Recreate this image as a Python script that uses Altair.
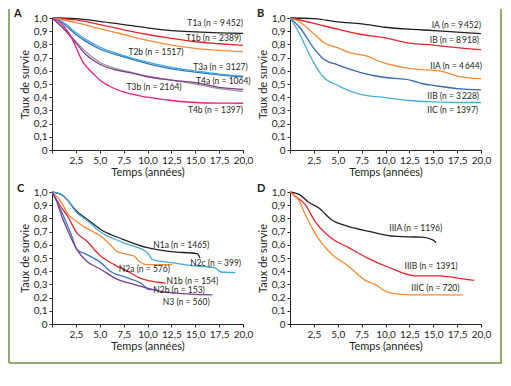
import altair as alt
import pandas as pd

FONT = "Lato"
TXT = "#231f20"
GREEN = "#8cad6e"

# ---------------- Panel A ----------------
A_names = ["T1a", "T1b", "T2a", "T2b", "T3a", "T3b", "T4a", "T4b"]
A_colors = ["#231f20", "#e4262d", "#f58a34", "#2f74b5", "#41a8de", "#9b9b9b", "#7d3c8f", "#e61e7f"]
A_times = [
    [0, 2.5, 5, 7.5, 10, 12.5, 15, 17.5, 20],
    [0, 2.5, 5, 7.5, 10, 12.5, 15, 17.5, 20],
    [0, 2.5, 5, 7.5, 10, 12.5, 15, 17.5, 20],
    [0, 1, 2.5, 3.5, 5, 7.5, 10, 12.5, 15, 17.5, 20],
    [0, 1, 2.5, 3.5, 5, 7.5, 10, 12.5, 15, 17.5, 20],
    [0, 1.2, 2.4, 3.6, 5, 6.8, 8.5, 10, 12.5, 15, 17.5, 20],
    [0, 1.2, 2.4, 3.6, 5, 6.8, 8.5, 10, 12.5, 15, 17.5, 20],
    [0, 0.8, 1.9, 3.3, 4.3, 5, 6, 7.5, 10, 12.5, 15, 17.5, 20],
]
A_surv = [
    [1, 0.995, 0.975, 0.95, 0.925, 0.905, 0.895, 0.888, 0.884],
    [1, 0.985, 0.95, 0.91, 0.875, 0.845, 0.82, 0.805, 0.793],
    [1, 0.965, 0.92, 0.875, 0.83, 0.795, 0.77, 0.755, 0.745],
    [1, 0.968, 0.875, 0.825, 0.765, 0.705, 0.655, 0.615, 0.59, 0.57, 0.555],
    [1, 0.975, 0.89, 0.84, 0.78, 0.715, 0.665, 0.625, 0.6, 0.575, 0.56],
    [1, 0.925, 0.83, 0.74, 0.665, 0.615, 0.585, 0.56, 0.53, 0.5, 0.465, 0.445],
    [1, 0.92, 0.82, 0.72, 0.65, 0.605, 0.58, 0.555, 0.53, 0.51, 0.475, 0.46],
    [1, 0.97, 0.87, 0.66, 0.58, 0.53, 0.485, 0.44, 0.40, 0.375, 0.36, 0.355, 0.354],
]
A_labels = ["T1a (n = 9\u2009452)", "T1b (n = 2389)", "T2b (n = 1517)", "T3a (n = 3127)",
            "T4a (n = 1064)", "T3b (n = 2164)", "T4b (n = 1397)"]
A_lab_t = [20, 19.8, 8.0, 20.5, 20.8, 7.8, 20]
A_lab_s = [0.96, 0.85, 0.74, 0.63, 0.52, 0.475, 0.30]
A_lab_al = ["right", "right", "left", "right", "right", "left", "right"]

# ---------------- Panel B ----------------
B_names = ["IA", "IB", "IIA", "IIB", "IIC"]
B_colors = ["#231f20", "#e4262d", "#f58a34", "#3368b0", "#48ade0"]
B_times = [
    [0, 2.5, 5, 7.5, 10, 12.5, 15, 17.5, 20],
    [0, 2.5, 5, 7.5, 10, 12.5, 15, 17.5, 20],
    [0, 1, 2.5, 3.5, 5, 6.1, 7.8, 9.6, 12.7, 15.8, 17.5, 20],
    [0, 1, 2.5, 3.5, 5, 6.1, 7.5, 9.6, 12.7, 14, 15, 17.5, 20],
    [0, 1, 2, 2.5, 3.5, 5, 6.1, 7.5, 9.6, 12.5, 15, 17.5, 20],
]
B_surv = [
    [1, 0.995, 0.97, 0.955, 0.93, 0.915, 0.905, 0.893, 0.882],
    [1, 0.96, 0.915, 0.875, 0.85, 0.81, 0.795, 0.775, 0.76],
    [1, 0.97, 0.88, 0.816, 0.775, 0.741, 0.716, 0.666, 0.616, 0.598, 0.56, 0.54],
    [1, 0.93, 0.77, 0.69, 0.645, 0.616, 0.585, 0.553, 0.528, 0.5, 0.49, 0.465, 0.455],
    [1, 0.88, 0.73, 0.66, 0.553, 0.49, 0.452, 0.42, 0.40, 0.375, 0.365, 0.36, 0.36],
]
B_labels = ["IA (n = 9\u2009452)", "IB (n = 8\u2009918)", "IIA (n = 4\u2009644)",
            "IIB (n = 3\u2009228)", "IIC (n = 1397)"]
B_lab_t = [20, 19.8, 20.1, 19.8, 19.7]
B_lab_s = [0.95, 0.83, 0.64, 0.41, 0.30]
B_lab_al = ["right", "right", "right", "right", "right"]

# ---------------- Panel C ----------------
C_names = ["N1a", "N2c", "N2a", "N1b", "N2b", "N3"]
C_colors = ["#231f20", "#41a8de", "#f58a34", "#e4262d", "#3a78bd", "#7b3a96"]
C_times = [
    [0, 1, 1.5, 2.5, 3.75, 5.1, 7.5, 10, 12.5, 15.2, 15.5],
    [0, 1, 1.5, 2.5, 3.75, 5, 7.5, 10, 10.5, 12.5, 15, 17, 17.7, 19.2],
    [0, 1, 1.6, 2.5, 3.5, 5.1, 6.1, 6.8, 7.9, 8.6, 9.2, 10, 12.6],
    [0, 1, 1.6, 2.6, 3.6, 5.1, 6.5, 7.9, 9.1, 10, 11.9],
    [0, 1, 2, 2.6, 3.6, 5.1, 6.1, 7.9, 9.3, 10.2, 10.9],
    [0, 0.5, 1, 1.6, 2.6, 3.6, 5.1, 6.8, 8.6, 12.1, 16.8],
]
C_surv = [
    [1, 0.98, 0.95, 0.86, 0.79, 0.716, 0.64, 0.578, 0.548, 0.533, 0.5],
    [1, 0.98, 0.95, 0.85, 0.78, 0.70, 0.615, 0.54, 0.49, 0.465, 0.44, 0.427, 0.394, 0.39],
    [1, 0.92, 0.84, 0.78, 0.73, 0.666, 0.60, 0.55, 0.528, 0.515, 0.47, 0.45, 0.45],
    [1, 0.88, 0.82, 0.69, 0.63, 0.515, 0.45, 0.40, 0.352, 0.33, 0.31],
    [1, 0.85, 0.68, 0.565, 0.528, 0.465, 0.40, 0.35, 0.31, 0.26, 0.26],
    [1, 0.93, 0.82, 0.716, 0.565, 0.477, 0.415, 0.34, 0.30, 0.24, 0.22],
]
C_labels = ["N1a (n = 1465)", "N2c (n = 399)", "N2a (n = 576)", "N1b (n = 154)",
            "N2b (n = 153)", "N3 (n = 560)"]
C_lab_t = [10.6, 19.8, 7.0, 12.0, 10.6, 11.6]
C_lab_s = [0.60, 0.465, 0.42, 0.325, 0.254, 0.163]
C_lab_al = ["left", "right", "left", "left", "left", "left"]

# ---------------- Panel D ----------------
D_names = ["IIIA", "IIIB", "IIIC"]
D_colors = ["#231f20", "#e4262d", "#f58a34"]
D_times = [
    [0, 1, 2, 3, 4.35, 6.1, 8.4, 10.3, 12.5, 13.8, 15, 15.3],
    [0, 0.5, 1.6, 2.6, 4.35, 6.1, 8.4, 10.3, 13.1, 15.5, 17.2, 19.3],
    [0, 0.9, 1.6, 2.6, 4.35, 6.1, 7.9, 8.9, 10.3, 12.8, 18.1],
]
D_surv = [
    [1, 0.98, 0.92, 0.88, 0.79, 0.74, 0.70, 0.67, 0.66, 0.658, 0.635, 0.615],
    [1, 0.97, 0.905, 0.78, 0.65, 0.58, 0.49, 0.43, 0.365, 0.365, 0.352, 0.33],
    [1, 0.94, 0.83, 0.69, 0.53, 0.44, 0.33, 0.30, 0.24, 0.22, 0.22],
]
D_labels = ["IIIA (n = 1196)", "IIIB (n = 1391)", "IIIC (n = 720)"]
D_lab_t = [10.4, 12.0, 12.7]
D_lab_s = [0.73, 0.44, 0.27]
D_lab_al = ["left", "left", "left"]

X_TICKS = [0, 2.5, 5, 7.5, 10, 12.5, 15, 17.5, 20]
Y_TICKS = [0, 0.1, 0.2, 0.3, 0.4, 0.5, 0.6, 0.7, 0.8, 0.9, 1.0]

W, H = 191, 132


def panel(letter, lx, ly, names, colors, times, surv, labels, lab_t, lab_s, lab_al, extras=()):
    rows = []
    for name, ts, ss in zip(names, times, surv):
        for i, (t, s) in enumerate(zip(ts, ss)):
            rows.append({"serie": name, "t": t, "s": s, "i": i})
    df = pd.DataFrame(rows)
    x = alt.X("t:Q", scale=alt.Scale(domain=[0, 20], nice=False, zero=False),
              axis=alt.Axis(values=X_TICKS, title="Temps (années)", labelOverlap=False,
                            labelFlush=False,
                            labelExpr="datum.value == 0 ? '' : replace(format(datum.value, '.1f'), '.', ',')"))
    y = alt.Y("s:Q", scale=alt.Scale(domain=[0, 1], nice=False),
              axis=alt.Axis(values=Y_TICKS, title="Taux de survie", labelOverlap=False,
                            labelFlush=False,
                            labelExpr="datum.value == 0 ? '0' : replace(format(datum.value, '.1f'), '.', ',')"))
    lines = alt.Chart(df).mark_line(strokeWidth=1.3, interpolate="monotone").encode(
        x=x, y=y,
        color=alt.Color("serie:N", scale=alt.Scale(domain=names, range=colors), legend=None),
        detail="serie:N",
        order="i:Q",
    )
    labdf = pd.DataFrame({"lab": labels, "t": lab_t, "s": lab_s, "al": lab_al})
    layers = [lines]
    for al in ["left", "right"]:
        layers.append(
            alt.Chart(labdf).transform_filter(f"datum.al == '{al}'").mark_text(
                align=al, baseline="middle", font=FONT, fontSize=8.5, color=TXT
            ).encode(x=x, y=y, text="lab:N")
        )
    layers.append(
        alt.Chart(pd.DataFrame({"l": [letter]})).mark_text(
            align="left", baseline="top", font=FONT, fontSize=11, fontWeight="bold", color=TXT
        ).encode(x=alt.value(lx), y=alt.value(ly), text="l:N")
    )
    layers.extend(extras)
    return alt.layer(*layers).properties(width=W, height=H)


one = pd.DataFrame({"k": [0]})
left_border = alt.Chart(one).mark_rule(color=GREEN, strokeWidth=2).encode(
    x=alt.value(-43), y=alt.value(-183), y2=alt.value(171))
bottom_border = alt.Chart(one).mark_rule(color=GREEN, strokeWidth=2).encode(
    x=alt.value(-43), x2=alt.value(450), y=alt.value(171))
right_border = alt.Chart(one).mark_rule(color=GREEN, strokeWidth=2).encode(
    x=alt.value(211), y=alt.value(-183), y2=alt.value(171))

pA = panel("A", -38, -10, A_names, A_colors, A_times, A_surv, A_labels, A_lab_t, A_lab_s, A_lab_al)
pB = panel("B", -33, -10, B_names, B_colors, B_times, B_surv, B_labels, B_lab_t, B_lab_s, B_lab_al)
pC = panel("C", -35, -9, C_names, C_colors, C_times, C_surv, C_labels, C_lab_t, C_lab_s, C_lab_al,
           extras=(left_border, bottom_border))
pD = panel("D", -33, -9, D_names, D_colors, D_times, D_surv, D_labels, D_lab_t, D_lab_s, D_lab_al,
           extras=(right_border,))

chart = alt.concat(
    pA, pB, pC, pD, columns=2, spacing=alt.RowColnumber(row=42, column=47), bounds="flush"
).resolve_scale(
    color="independent"
).properties(
    padding={"left": 0, "top": 0, "right": 0, "bottom": 0}
).configure_view(
    stroke=None
).configure_axis(
    grid=False,
    domainColor=TXT, tickColor=TXT, labelColor=TXT, titleColor=TXT,
    domainWidth=1, tickWidth=1, tickSize=3,
    labelFont=FONT, titleFont=FONT, labelFontSize=10, titleFontSize=11,
    titleFontWeight="normal", labelPadding=2, titlePadding=3,
).configure_axisX(
    labelPadding=2, titlePadding=1,
)

chart.save("out.html", embed_options={"renderer": "svg", "actions": False})
